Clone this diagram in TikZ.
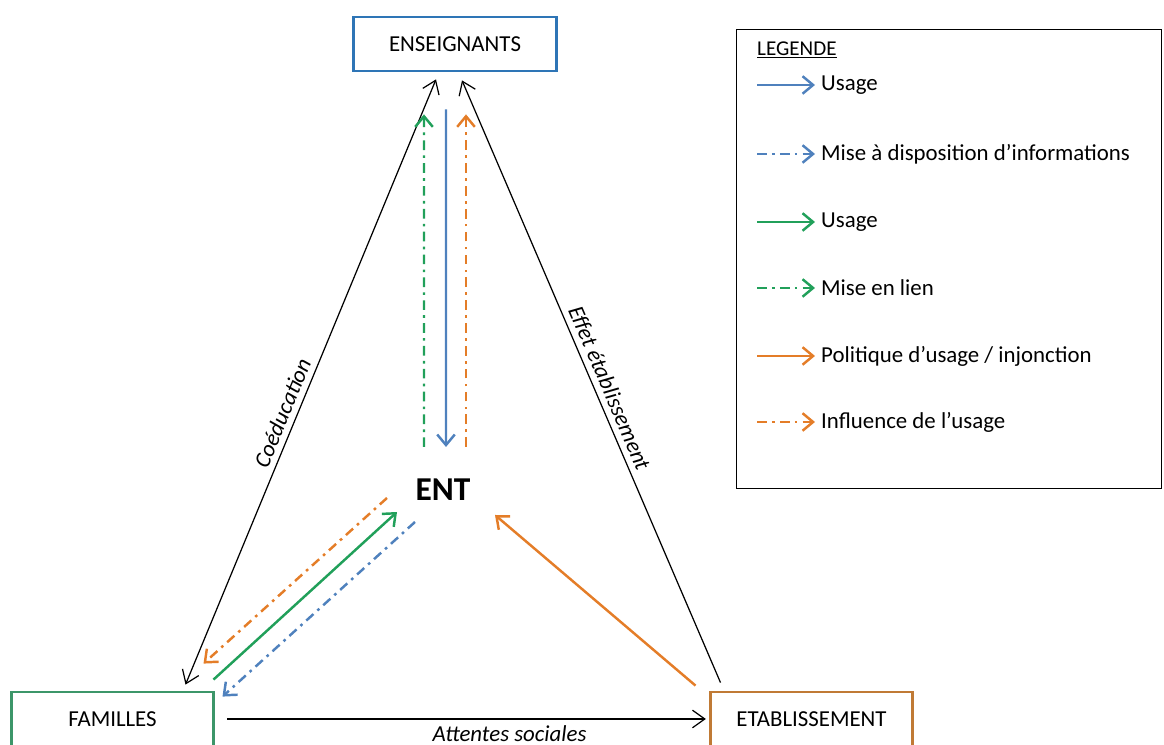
\documentclass[tikz,border=0pt]{standalone}
\usepackage{fontspec}
\setmainfont{Carlito}
\usepackage{tikz}
\usetikzlibrary{arrows.meta, positioning, calc}
\definecolor{entblue}{RGB}{79, 129, 189}
\definecolor{entgreen}{RGB}{33, 160, 90}
\definecolor{entorange}{RGB}{228, 125, 40}
\definecolor{boxblue}{RGB}{46, 117, 182}
\definecolor{boxgreen}{RGB}{60, 150, 105}
\definecolor{boxorange}{RGB}{192, 122, 53}

\begin{document}
\begin{tikzpicture}[
    actor/.style={rectangle, draw=#1, line width=1.6pt, minimum width=4.05cm, minimum height=1.08cm, font=\fontsize{13}{15}\selectfont},
    link/.style={>={Straight Barb[length=7pt, width=10pt]}, line width=0.7pt, draw=black},
    flow/.style={-{Straight Barb[length=6pt, width=10pt]}, line width=1.4pt, draw=#1},
    dashdot/.style={dash pattern=on 5.5pt off 3pt on 1.5pt off 3pt},
    lab/.style={font=\itshape\fontsize{13}{15}\selectfont}
]
\useasboundingbox (0,0) rectangle (23.28,14.9);

% Actors
\node[actor=boxblue] (ens) at (9.10,14.02) {ENSEIGNANTS};
\node[actor=boxgreen] (fam) at (2.25,0.52) {FAMILLES};
\node[actor=boxorange] (etab) at (16.23,0.52) {ETABLISSEMENT};
\node[font=\bfseries\fontsize{19}{22}\selectfont] (ent) at (8.86,5.10) {ENT};

% Relations between actors
\draw[link, <->] ([shift={(1.46,0.12)}]fam.north) -- node[lab, above, sloped, pos=0.44] {Coéducation} ([shift={(-0.38,-0.14)}]ens.south);
\draw[link, <-] ([shift={(0.14,-0.16)}]ens.south) -- node[lab, above, sloped, pos=0.52] {Effet établissement} ([shift={(-1.82,0.16)}]etab.north);
\draw[link, ->] ([xshift=0.24cm]fam.east) -- node[lab, below, pos=0.59] {Attentes sociales} ([xshift=-0.06cm]etab.west);

% Enseignants <-> ENT
\draw[flow=entblue] ([shift={(-0.18,-0.74)}]ens.south) -- ([shift={(0.06,0.86)}]ent.center);
\draw[flow=entgreen, dashdot] ([shift={(-0.38,0.86)}]ent.center) -- ([shift={(-0.62,-0.84)}]ens.south);
\draw[flow=entorange, dashdot] ([shift={(0.46,0.86)}]ent.center) -- ([shift={(0.22,-0.84)}]ens.south);

% Familles <-> ENT
\draw[flow=entgreen] ([shift={(2.02,0.22)}]fam.north) -- ([shift={(-0.92,-0.44)}]ent.center);
\draw[flow=entorange, dashdot] ([shift={(-1.12,-0.16)}]ent.center) -- ([shift={(1.82,0.54)}]fam.north);
\draw[flow=entblue, dashdot] ([shift={(-0.56,-0.64)}]ent.center) -- ([shift={(2.20,-0.12)}]fam.north);

% Etablissement -> ENT
\draw[flow=entorange] ([shift={(-2.32,0.10)}]etab.north) -- ([shift={(1.04,-0.50)}]ent.center);

% Legend
\node[draw, line width=0.8pt, anchor=north west, minimum width=8.5cm, minimum height=9.18cm] (legend) at (14.72,14.32) {};
\node[anchor=west, font=\fontsize{12}{14}\selectfont] (legtitle) at (15.02,13.90) {\underline{LEGENDE}};
\foreach \y/\col/\sty/\txt [count=\i] in {
    13.20/entblue/solid/{Usage},
    11.82/entblue/dashdot/{Mise à disposition d’informations},
    10.46/entgreen/solid/{Usage},
    9.14/entgreen/dashdot/{Mise en lien},
    7.78/entorange/solid/{Politique d’usage / injonction},
    6.46/entorange/dashdot/{Influence de l’usage}} {
  \coordinate (legs\i) at (15.14,\y);
  \node[anchor=west, font=\fontsize{13}{15}\selectfont] (leg\i) at (16.30,\y) {\txt};
  \draw[flow=\col, \sty] (legs\i) -- (leg\i.west);
}

\end{tikzpicture}
\end{document}
